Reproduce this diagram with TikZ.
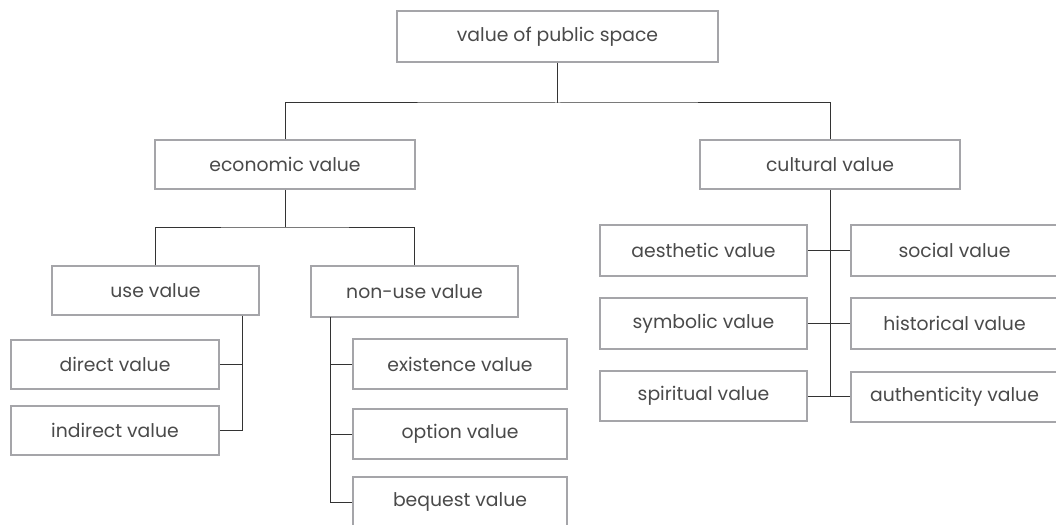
\documentclass[tikz,border=0pt]{standalone}
\usepackage{fontspec}
\setmainfont{Poppins}
\definecolor{boxline}{HTML}{A5A5A9}
\definecolor{txt}{HTML}{4A4A4A}
\definecolor{conline}{HTML}{333333}
\begin{document}
\begin{tikzpicture}[x=1pt,y=-1pt,
  vbox/.style={draw=boxline,line width=1.5pt,fill=white,inner sep=0pt,
    minimum height=50pt,text=txt,font=\fontsize{18.8}{22}\selectfont},
  conn/.style={draw=conline,line width=1pt}]
\useasboundingbox (0,0) rectangle (1056,524);
\clip (0,0) rectangle (1056,524);
\node[vbox,minimum width=321pt,minimum height=51pt] (top) at (557.5,36.5) {value of public space};
\node[vbox,minimum width=260pt,minimum height=49pt] (econ) at (285,164.5) {economic value};
\node[vbox,minimum width=260pt,minimum height=49pt] (cult) at (830,164.5) {cultural value};
\node[vbox,minimum width=207pt,minimum height=49pt] (use) at (155.5,290.5) {use value};
\node[vbox,minimum width=207pt,minimum height=51pt] (nonuse) at (414.5,291.5) {non-use value};
\node[vbox,minimum width=208pt,minimum height=49pt] (direct) at (115,364.5) {direct value};
\node[vbox,minimum width=208pt,minimum height=49pt] (indirect) at (115,430.5) {indirect value};
\node[vbox,minimum width=214pt] (exist) at (460,364) {existence value};
\node[vbox,minimum width=214pt] (option) at (460,434) {option value};
\node[vbox,minimum width=214pt] (bequest) at (460,502) {bequest value};
\node[vbox,minimum width=207pt,minimum height=51pt] (aest) at (703.5,250.5) {aesthetic value};
\node[vbox,minimum width=207pt,minimum height=51pt] (symb) at (703.5,323.5) {symbolic value};
\node[vbox,minimum width=207pt] (spir) at (703.5,396) {spiritual value};
\node[vbox,minimum width=207pt,minimum height=51pt] (social) at (954.5,250.5) {social value};
\node[vbox,minimum width=207pt,minimum height=51pt] (hist) at (954.5,323.5) {historical value};
\node[vbox,minimum width=207pt] (auth) at (954.5,397) {authenticity value};
% connectors
\coordinate (j1) at (557.5,103);
\draw[conn] (top.south) -- (j1);
\draw[conn] (econ.north) |- (j1) -| (cult.north);
\coordinate (j2) at (285,227);
\draw[conn] (econ.south) -- (j2);
\draw[conn] (use.north) |- (j2) -| (nonuse.north);
\coordinate (j3) at (242,315.5);
\draw[conn] (j3) |- (indirect.east);
\draw[conn] (direct.east) -- (direct.east -| j3);
\coordinate (j4) at (330,317);
\draw[conn] (j4) |- (bequest.west);
\draw[conn] (exist.west) -- (exist.west -| j4);
\draw[conn] (option.west) -- (option.west -| j4);
\coordinate (j5) at (830,396);
\draw[conn] (cult.south) -- (j5);
\draw[conn] (aest.east) -- (aest.east -| social.west);
\draw[conn] (symb.east) -- (symb.east -| hist.west);
\draw[conn] (spir.east) -- (spir.east -| auth.west);
\end{tikzpicture}
\end{document}
